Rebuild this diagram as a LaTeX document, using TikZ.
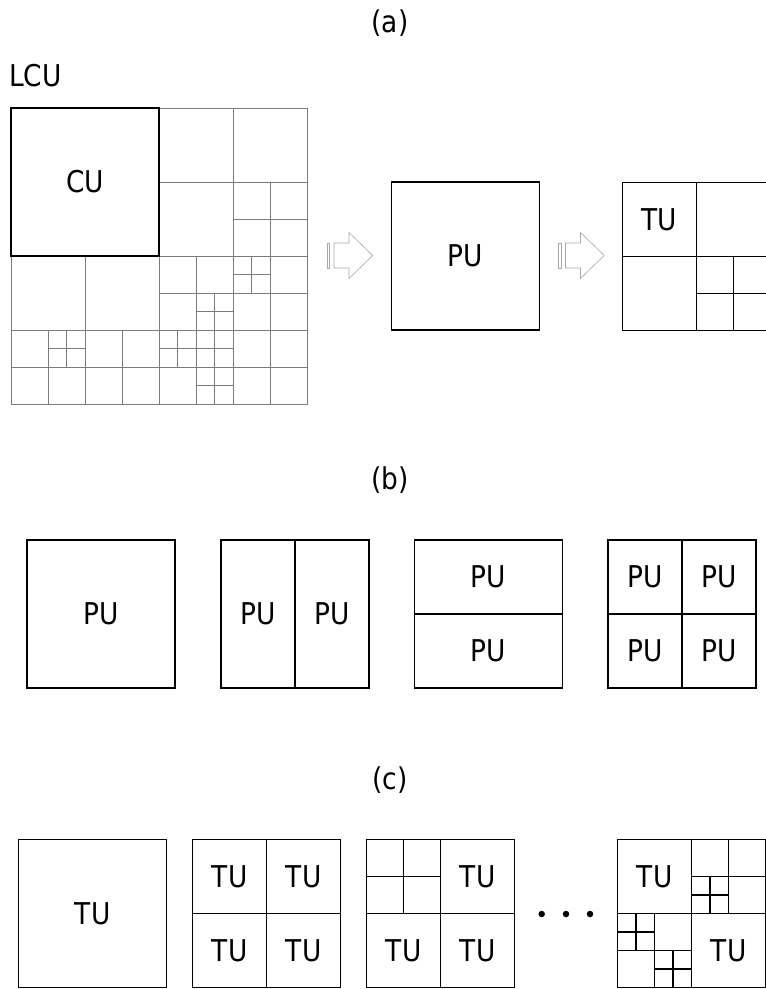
\documentclass[tikz,border=0pt]{standalone}
\usepackage{fontspec}
\setmainfont{DejaVu Sans}[FakeStretch=0.88]
\definecolor{gridgray}{HTML}{7C7C7C}
\definecolor{arrowgray}{HTML}{A8A8A8}
\tikzset{
  unitbox/.style={draw=black, line width=1.5pt},
  cubox/.style={draw=black, line width=1.7pt},
  gridline/.style={draw=gridgray, line width=1pt},
  txt/.style={inner sep=0pt, font=\fontsize{30}{36}\selectfont},
  captxt/.style={inner sep=0pt, anchor=base, font=\fontsize{30}{36}\selectfont},
  hollowarrow/.style={draw=arrowgray, line width=0.6pt, fill=white},
  elldot/.style={circle, fill=black, inner sep=0pt, minimum size=6.5pt},
  flowarrow/.pic={
    \draw[hollowarrow] (0,-12.5) rectangle (2.5,12.5);
    \draw[hollowarrow] (7,-12.5) -- (22,-12.5) -- (22,-23) -- (45.7,0)
      -- (22,23) -- (22,12.5) -- (7,12.5) -- cycle;
  },
}
\begin{document}
\begin{tikzpicture}[x=1pt,y=-1pt]
\useasboundingbox (0,0) rectangle (766,989);
\clip (0,0) rectangle (766,989);

% section captions
\node[captxt] (capa) at (390,32.7) {(a)};
\node[captxt] (capb) at (390,489) {(b)};
\node[captxt] (capc) at (390,789) {(c)};

% ---------- (a) LCU quadtree ----------
\node[txt, anchor=west] (lcu) at (9,75.5) {LCU};
\begin{scope}[shift={(11,108)}, x=37pt, y=-37pt]
  \draw[gridline] (0,0) rectangle (8,8);
  % main splits
  \draw[gridline] (4,0) -- (4,8) (0,4) -- (8,4);
  \draw[gridline] (6,0) -- (6,8) (0,6) -- (8,6) (0,7) -- (8,7);
  % top-right quadrant
  \draw[gridline] (4,2) -- (8,2) (7,2) -- (7,8) (6,3) -- (8,3);
  % bottom-left quadrant
  \draw[gridline] (2,4) -- (2,8) (1,6) -- (1,8) (3,6) -- (3,8);
  \draw[gridline] (1.5,6) -- (1.5,7) (1,6.5) -- (2,6.5);
  % bottom-right quadrant
  \draw[gridline] (5,4) -- (5,8) (4,5) -- (8,5);
  \draw[gridline] (6.5,4) -- (6.5,5) (6,4.5) -- (7,4.5);
  \draw[gridline] (5.5,5) -- (5.5,8) (5,5.5) -- (6,5.5);
  \draw[gridline] (4.5,6) -- (4.5,7) (4,6.5) -- (6,6.5);
  \draw[gridline] (5,7.5) -- (6,7.5);
  % coding unit
  \draw[cubox] (0,0) rectangle (4,4);
  \node[txt] (cu) at (2,2) {CU};
\end{scope}

\pic at (327,255.5) {flowarrow};
\pic at (558.5,255.5) {flowarrow};

% prediction unit
\begin{scope}[shift={(391.5,182)}, x=37pt, y=-37pt]
  \draw[unitbox] (0,0) rectangle (4,4);
  \node[txt] (pua) at (2,2) {PU};
\end{scope}

% transform unit tree
\begin{scope}[shift={(622.3,182.3)}, x=37pt, y=-37pt]
  \draw[unitbox] (0,0) rectangle (4,4);
  \draw[unitbox] (2,0) -- (2,4) (0,2) -- (4,2) (3,2) -- (3,4) (2,3) -- (4,3);
  \node[txt] (tua) at (1,1) {TU};
\end{scope}

% ---------- (b) PU partitions ----------
\begin{scope}[shift={(27,540)}, x=37pt, y=-37pt]
  \draw[unitbox] (0,0) rectangle (4,4);
  \node[txt] (pub1) at (2,2) {PU};
\end{scope}
\begin{scope}[shift={(221,540)}, x=37pt, y=-37pt]
  \draw[unitbox] (0,0) rectangle (4,4);
  \draw[unitbox] (2,0) -- (2,4);
  \node[txt] (pub2l) at (1,2) {PU};
  \node[txt] (pub2r) at (3,2) {PU};
\end{scope}
\begin{scope}[shift={(414.5,540)}, x=37pt, y=-37pt]
  \draw[unitbox] (0,0) rectangle (4,4);
  \draw[unitbox] (0,2) -- (4,2);
  \node[txt] (pub3t) at (2,1) {PU};
  \node[txt] (pub3b) at (2,3) {PU};
\end{scope}
\begin{scope}[shift={(608,540)}, x=37pt, y=-37pt]
  \draw[unitbox] (0,0) rectangle (4,4);
  \draw[unitbox] (2,0) -- (2,4) (0,2) -- (4,2);
  \node[txt] (pub4a) at (1,1) {PU};
  \node[txt] (pub4b) at (3,1) {PU};
  \node[txt] (pub4c) at (1,3) {PU};
  \node[txt] (pub4d) at (3,3) {PU};
\end{scope}

% ---------- (c) TU quadtrees ----------
\begin{scope}[shift={(18.7,839.5)}, x=37pt, y=-37pt]
  \draw[unitbox] (0,0) rectangle (4,4);
  \node[txt] (tuc1) at (2,2) {TU};
\end{scope}
\begin{scope}[shift={(192.7,839.5)}, x=37pt, y=-37pt]
  \draw[unitbox] (0,0) rectangle (4,4);
  \draw[unitbox] (2,0) -- (2,4) (0,2) -- (4,2);
  \node[txt] (tuc2a) at (1,1) {TU};
  \node[txt] (tuc2b) at (3,1) {TU};
  \node[txt] (tuc2c) at (1,3) {TU};
  \node[txt] (tuc2d) at (3,3) {TU};
\end{scope}
\begin{scope}[shift={(366.7,839.5)}, x=37pt, y=-37pt]
  \draw[unitbox] (0,0) rectangle (4,4);
  \draw[unitbox] (2,0) -- (2,4) (0,2) -- (4,2) (1,0) -- (1,2) (0,1) -- (2,1);
  \node[txt] (tuc3b) at (3,1) {TU};
  \node[txt] (tuc3c) at (1,3) {TU};
  \node[txt] (tuc3d) at (3,3) {TU};
\end{scope}

\node[elldot] (dot1) at (541.7,914) {};
\node[elldot] (dot2) at (566,914) {};
\node[elldot] (dot3) at (590,914) {};

\begin{scope}[shift={(617.7,839.5)}, x=37pt, y=-37pt]
  \draw[unitbox] (0,0) rectangle (4,4);
  \draw[unitbox] (2,0) -- (2,4) (0,2) -- (4,2);
  % top-right quadrant
  \draw[unitbox] (3,0) -- (3,2) (2,1) -- (4,1) (2.5,1) -- (2.5,2) (2,1.5) -- (3,1.5);
  % bottom-left quadrant
  \draw[unitbox] (1,2) -- (1,4) (0,3) -- (2,3);
  \draw[unitbox] (0.5,2) -- (0.5,3) (0,2.5) -- (1,2.5);
  \draw[unitbox] (1.5,3) -- (1.5,4) (1,3.5) -- (2,3.5);
  \node[txt] (tuc4a) at (1,1) {TU};
  \node[txt] (tuc4d) at (3,3) {TU};
\end{scope}
\end{tikzpicture}
\end{document}
